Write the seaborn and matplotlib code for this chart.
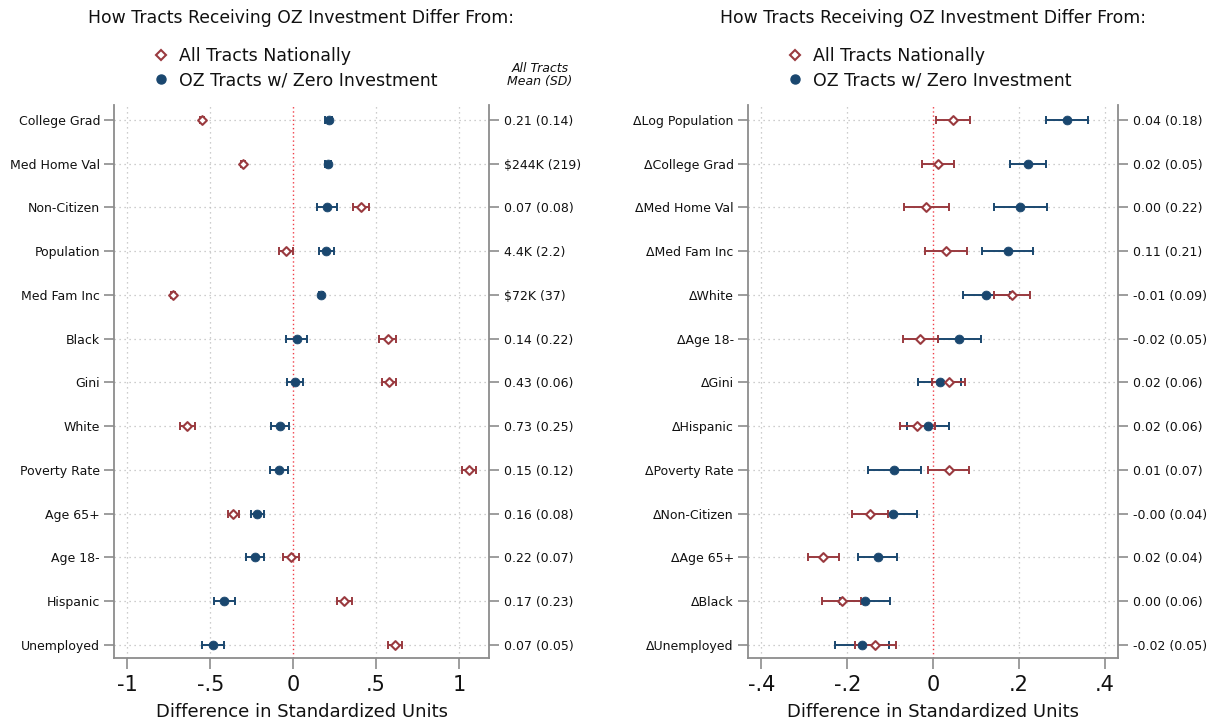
import numpy as np
import pandas as pd
import matplotlib
matplotlib.use("Agg")
import matplotlib.pyplot as plt
from matplotlib.lines import Line2D
import seaborn as sns

# ---- Left panel: tract levels ----
left_vars = ["College Grad", "Med Home Val", "Non-Citizen", "Population", "Med Fam Inc",
             "Black", "Gini", "White", "Poverty Rate", "Age 65+", "Age 18-", "Hispanic",
             "Unemployed"]
left_nat = [-0.548, -0.30, 0.407, -0.044, -0.725, 0.57, 0.578, -0.638, 1.061, -0.36,
            -0.014, 0.308, 0.612]
left_nat_err = [0.012, 0.012, 0.048, 0.040, 0.012, 0.050, 0.042, 0.045, 0.042, 0.033,
                0.048, 0.044, 0.043]
left_zero = [0.213, 0.21, 0.203, 0.20, 0.165, 0.02, 0.012, -0.079, -0.085, -0.216,
             -0.232, -0.415, -0.483]
left_zero_err = [0.020, 0.020, 0.060, 0.045, 0.012, 0.062, 0.050, 0.054, 0.053, 0.041,
                 0.055, 0.062, 0.064]
left_means = ["0.21 (0.14)", "$244K (219)", "0.07 (0.08)", "4.4K (2.2)", "$72K (37)",
              "0.14 (0.22)", "0.43 (0.06)", "0.73 (0.25)", "0.15 (0.12)", "0.16 (0.08)",
              "0.22 (0.07)", "0.17 (0.23)", "0.07 (0.05)"]
left_xticks = [-1, -0.5, 0, 0.5, 1]
left_xticklabels = ["-1", "-.5", "0", ".5", "1"]

# ---- Right panel: changes ----
right_vars = ["ΔLog Population", "ΔCollege Grad", "ΔMed Home Val", "ΔMed Fam Inc", "ΔWhite",
              "ΔAge 18-", "ΔGini", "ΔHispanic", "ΔPoverty Rate", "ΔNon-Citizen",
              "ΔAge 65+", "ΔBlack", "ΔUnemployed"]
right_nat = [0.047, 0.012, -0.016, 0.030, 0.183, -0.030, 0.036, -0.037, 0.036, -0.147,
             -0.256, -0.213, -0.135]
right_nat_err = [0.040, 0.037, 0.052, 0.048, 0.042, 0.041, 0.039, 0.041, 0.048, 0.043,
                 0.036, 0.046, 0.048]
right_zero = [0.312, 0.221, 0.203, 0.174, 0.124, 0.061, 0.015, -0.011, -0.090, -0.093,
              -0.129, -0.158, -0.165]
right_zero_err = [0.049, 0.043, 0.062, 0.059, 0.054, 0.050, 0.050, 0.049, 0.061, 0.055,
                  0.045, 0.058, 0.063]
right_means = ["0.04 (0.18)", "0.02 (0.05)", "0.00 (0.22)", "0.11 (0.21)", "-0.01 (0.09)",
               "-0.02 (0.05)", "0.02 (0.06)", "0.02 (0.06)", "0.01 (0.07)", "-0.00 (0.04)",
               "0.02 (0.04)", "0.00 (0.06)", "-0.02 (0.05)"]
right_xticks = [-0.4, -0.2, 0, 0.2, 0.4]
right_xticklabels = ["-.4", "-.2", "0", ".2", ".4"]

title = "How Tracts Receiving OZ Investment Differ From:"
series_names = ["All Tracts Nationally", "OZ Tracts w/ Zero Investment"]

RED = "#9a3a3f"
BLUE = "#1a476f"
SPINE = "#8c8c8c"
GRID = "#bdbdbd"
ZERO = "#f0404a"
INK = "#111111"

sns.set_theme(style="white")
plt.rcParams["font.family"] = ["DejaVu Sans"]
plt.rcParams["text.color"] = INK

W, H = 1215, 724
fig = plt.figure(figsize=(W / 100, H / 100), dpi=100)
fig.patch.set_facecolor("white")


def draw_panel(rect, legend_x, labels, nat, nat_err, zero, zero_err, means, xlim, xticks,
               xticklabels, header=False):
    ax = fig.add_axes(rect)
    n = len(labels)
    df = pd.DataFrame({"row": np.arange(n), "nat": nat, "nat_err": nat_err,
                       "zero": zero, "zero_err": zero_err})

    # dotted reference grid
    for r in df["row"]:
        ax.axhline(r, color=GRID, ls=(0, (1, 3)), lw=0.9, zorder=0)
    for xv in xticks:
        if xv != 0:
            ax.axvline(xv, color=GRID, ls=(0, (1, 3)), lw=0.9, zorder=0)
    ax.axvline(0, color=ZERO, ls=(0, (1, 2)), lw=1.0, zorder=1)

    # confidence intervals
    ax.errorbar(df["zero"], df["row"], xerr=df["zero_err"], fmt="none", ecolor=BLUE,
                elinewidth=1.4, capsize=3, capthick=1.4, zorder=2)
    ax.errorbar(df["nat"], df["row"], xerr=df["nat_err"], fmt="none", ecolor=RED,
                elinewidth=1.4, capsize=3, capthick=1.4, zorder=3)

    # point estimates
    sns.scatterplot(data=df, x="zero", y="row", ax=ax, marker="o", s=40,
                    facecolor=BLUE, edgecolor=BLUE, linewidth=0.6, legend=False, zorder=4)
    sns.scatterplot(data=df, x="nat", y="row", ax=ax, marker="D", s=20,
                    facecolor="white", edgecolor=RED, linewidth=1.5, legend=False, zorder=5)

    ax.set_xlim(*xlim)
    ax.set_ylim(n - 1 + 0.3, -0.34)
    ax.set_xticks(xticks, xticklabels)
    ax.set_yticks(df["row"], labels)
    ax.set_xlabel("Difference in Standardized Units", fontsize=13, labelpad=6, color=INK)
    ax.set_ylabel("")

    for side in ["left", "bottom"]:
        ax.spines[side].set_color(SPINE)
        ax.spines[side].set_linewidth(1.3)
    ax.spines["top"].set_visible(False)
    ax.spines["right"].set_visible(False)
    ax.tick_params(axis="y", left=True, length=7, width=1.2, color=SPINE,
                   labelsize=9, pad=3, labelcolor=INK)
    ax.tick_params(axis="x", bottom=True, length=8, width=1.2, color=SPINE,
                   labelsize=15, pad=4, labelcolor=INK)

    tw = ax.twinx()
    tw.set_ylim(ax.get_ylim())
    tw.set_yticks(df["row"], means)
    for side in ["left", "top", "bottom"]:
        tw.spines[side].set_visible(False)
    tw.spines["right"].set_color(SPINE)
    tw.spines["right"].set_linewidth(1.3)
    tw.tick_params(axis="y", right=True, length=7, width=1.2, color=SPINE,
                   labelsize=9, pad=4, labelcolor=INK)
    tw.grid(False)

    pos = ax.get_position()
    cx = (pos.x0 + pos.x1) / 2
    fig.text(cx, 1 - 18 / H, title, ha="center", va="center", fontsize=12.4, color=INK)

    handles = [
        Line2D([], [], ls="none", marker="D", ms=5, mfc="white", mec=RED, mew=1.5),
        Line2D([], [], ls="none", marker="o", ms=6.5, mfc=BLUE, mec=BLUE),
    ]
    fig.legend(handles, series_names, loc="center left",
               bbox_to_anchor=(legend_x / W, 1 - 68.5 / H),
               frameon=False, fontsize=12.5, handlelength=1.0, handletextpad=0.5,
               borderpad=0, borderaxespad=0, labelspacing=0.35, labelcolor=INK)

    if header:
        fig.text(540 / W, 1 - 75.5 / H, "All Tracts\nMean (SD)", ha="center", va="center",
                 fontsize=9, style="italic", linespacing=1.0, color=INK)
    return ax


draw_panel([114 / W, 1 - 658 / H, 375 / W, 553 / H], 152.5, left_vars, left_nat,
           left_nat_err, left_zero, left_zero_err, left_means, (-1.08, 1.18), left_xticks,
           left_xticklabels, header=True)
draw_panel([747.7 / W, 1 - 658 / H, 370 / W, 553 / H], 786.5, right_vars, right_nat,
           right_nat_err, right_zero, right_zero_err, right_means, (-0.432, 0.43),
           right_xticks, right_xticklabels)

fig.savefig("out.png", dpi=100, facecolor="white")
